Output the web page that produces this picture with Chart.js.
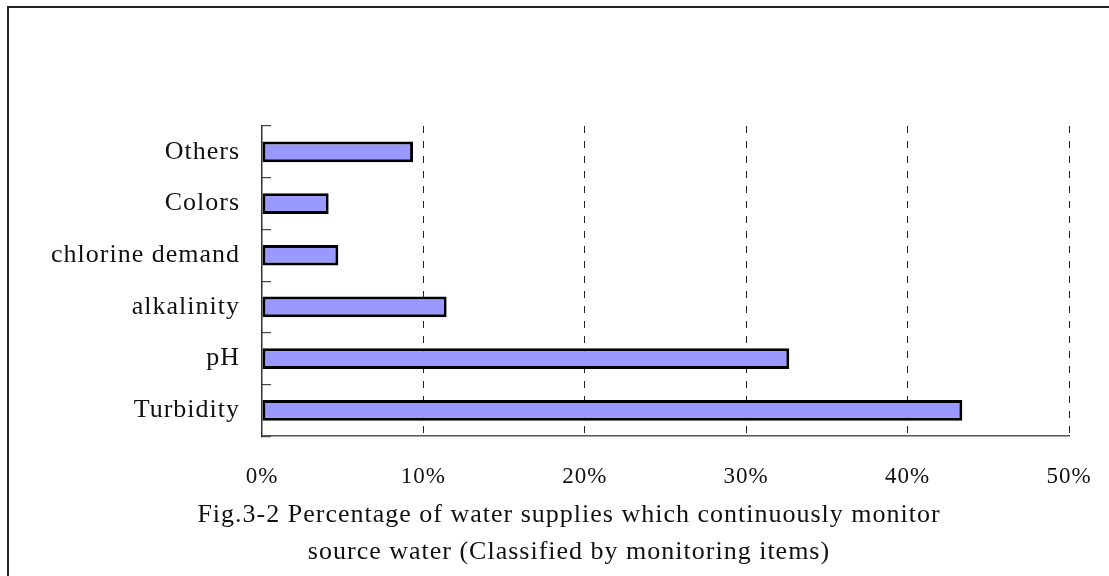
<!DOCTYPE html>
<html>
<head>
<meta charset="utf-8">
<script src="https://cdn.jsdelivr.net/npm/chart.js@4/dist/chart.umd.min.js"></script>
<style>
  html, body { margin: 0; padding: 0; background: #fff; }
  #wrap { position: relative; width: 1109px; height: 576px; overflow: hidden; }
  #frame { position: absolute; left: 7px; top: 6px; width: 1200px; height: 700px;
           border-left: 2px solid #222; border-top: 2px solid #222; }
  #c { position: absolute; left: 0; top: 0; }
</style>
</head>
<body>
<div id="wrap">
  <div id="frame"></div>
  <canvas id="c" width="1109" height="576"></canvas>
</div>
<script>
// Monitoring items, listed top to bottom
const items = ['Others', 'Colors', 'chlorine demand', 'alkalinity', 'pH', 'Turbidity'];
// Share of water supplies monitoring each item (%)
const shares = [9.36, 4.13, 4.73, 11.44, 32.67, 43.39];
// Axis ticks (%)
const tickValues = [0, 10, 20, 30, 40, 50];
const titleLines = [
  'Fig.3-2 Percentage of water supplies which continuously monitor',
  'source water (Classified by monitoring items)'
];

Chart.defaults.font.family = '"Liberation Serif", "DejaVu Serif", serif';
Chart.defaults.font.size = 26;
Chart.defaults.color = '#111';

const captionCenterX = 569;

// Looser letter spacing for all chart text (set before layout so measuring agrees),
// and the caption centred under the whole figure rather than the plot box.
const figureText = {
  id: 'figureText',
  beforeLayout(chart) { chart.ctx.letterSpacing = '1px'; },
  afterLayout(chart) {
    const tb = chart.titleBlock;
    if (tb) {
      tb.left = 2 * captionCenterX - tb.right;
      tb.width = tb.right - tb.left;
    }
  }
};

new Chart(document.getElementById('c'), {
  type: 'bar',
  data: {
    labels: items,
    datasets: [{
      data: shares,
      backgroundColor: '#9999ff',
      borderColor: '#000',
      borderWidth: 3,
      borderSkipped: false,
      categoryPercentage: 1,
      barPercentage: 0.4
    }]
  },
  plugins: [figureText],
  options: {
    indexAxis: 'y',
    responsive: false,
    animation: false,
    layout: { padding: { left: 0, right: 40, top: 126, bottom: 6 } },
    plugins: {
      legend: { display: false },
      tooltip: { enabled: false },
      title: {
        display: true,
        position: 'bottom',
        text: titleLines,
        color: '#111',
        font: { size: 26, weight: 'normal', lineHeight: 1.4 },
        padding: { top: 0, bottom: 0 }
      }
    },
    scales: {
      x: {
        min: tickValues[0],
        max: tickValues[tickValues.length - 1],
        afterBuildTicks: s => { s.ticks = tickValues.map(v => ({ value: v })); },
        ticks: { padding: 0, callback: v => v + '%', color: '#111', font: { size: 23 } },
        grid: {
          drawTicks: true,
          tickLength: 27,
          tickColor: 'rgba(0,0,0,0)',
          color: ctx => ctx.tick && ctx.tick.value === 0 ? 'rgba(0,0,0,0)' : '#222',
          lineWidth: 1
        },
        border: { display: true, color: '#555', width: 1.5, dash: [7, 8] },
        afterFit: s => { s.height = 61; }
      },
      y: {
        ticks: { padding: 31, color: '#111' },
        grid: {
          drawOnChartArea: false,
          drawTicks: true,
          tickLength: -9,
          color: '#444',
          lineWidth: 1.2
        },
        border: { display: true, color: '#333', width: 1.5 },
        afterFit: s => { s.width = 262; }
      }
    }
  }
});
</script>
</body>
</html>
